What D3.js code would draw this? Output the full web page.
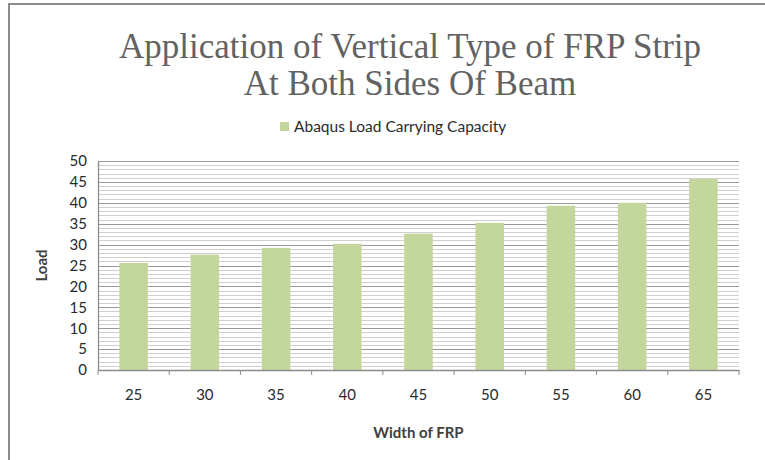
<!doctype html>
<html lang="en">
<head>
<meta charset="utf-8">
<title>Application of Vertical Type of FRP Strip</title>
<script src="https://d3js.org/d3.v7.min.js"></script>
<style>
  body { margin: 0; background: #fff; }
</style>
</head>
<body>
<svg width="765" height="460"></svg>
<script>
// data
var widths = ["25", "30", "35", "40", "45", "50", "55", "60", "65"];
var loads = [25.6, 27.6, 29.2, 30.2, 32.6, 35.2, 39.3, 40.0, 45.7];
var yTicks = [0, 5, 10, 15, 20, 25, 30, 35, 40, 45, 50];
var seriesName = "Abaqus Load Carrying Capacity";
var titleLines = ["Application of Vertical Type of FRP Strip", "At Both Sides Of Beam"];

var svg = d3.select("svg");
var plotL = 98, plotR = 739, plotT = 161, plotB = 370;
var font = "Lato, 'Open Sans', sans-serif";

// outer chart frame
svg.append("rect").attr("x", 9).attr("y", 4).attr("width", 780).attr("height", 480)
  .attr("fill", "none").attr("stroke", "#8c8c8c").attr("stroke-width", 2);

var x = d3.scaleBand().domain(widths).range([plotL, plotR]).paddingInner(0.6).paddingOuter(0.3);
var y = d3.scaleLinear().domain([0, 50]).range([plotB, plotT]);

// minor gridlines every 1, major every 5
var g = svg.append("g");
g.selectAll(".minor").data(d3.range(1, 50).filter(function(d) { return d % 5 != 0; }))
  .enter().append("line")
  .attr("x1", plotL).attr("x2", plotR)
  .attr("y1", function(d) { return Math.round(y(d)) + 0.5; })
  .attr("y2", function(d) { return Math.round(y(d)) + 0.5; })
  .attr("stroke", "#cfcfcf");
g.selectAll(".major").data(yTicks.slice(1))
  .enter().append("line")
  .attr("x1", plotL).attr("x2", plotR)
  .attr("y1", function(d) { return Math.round(y(d)) + 0.5; })
  .attr("y2", function(d) { return Math.round(y(d)) + 0.5; })
  .attr("stroke", "#9a9a9a");

// bars
svg.selectAll(".bar").data(loads).enter().append("rect")
  .attr("x", function(d, i) { return x(widths[i]); })
  .attr("y", function(d) { return y(d); })
  .attr("width", x.bandwidth())
  .attr("height", function(d) { return plotB - y(d); })
  .attr("fill", "#c3d69b");

// axes
var yAxis = svg.append("g").attr("transform", "translate(" + plotL + ",0)")
  .call(d3.axisLeft(y).tickValues(yTicks).tickSize(0).tickPadding(11));
var xAxis = svg.append("g").attr("transform", "translate(0," + plotB + ")")
  .call(d3.axisBottom(x).tickSize(0).tickPadding(19));
[yAxis, xAxis].forEach(function(a) {
  a.select(".domain").attr("stroke", "#8c8c8c").attr("stroke-width", 1.3);
  a.selectAll("text").attr("font-family", font).attr("font-size", 15).attr("fill", "#2a2a2a");
});
// x tick marks between categories
svg.selectAll(".xt").data(d3.range(widths.length + 1)).enter().append("line")
  .attr("x1", function(i) { return plotL + i * (plotR - plotL) / widths.length; })
  .attr("x2", function(i) { return plotL + i * (plotR - plotL) / widths.length; })
  .attr("y1", plotB).attr("y2", plotB + 5)
  .attr("stroke", "#8c8c8c");

// titles
svg.selectAll(".title").data(titleLines).enter().append("text")
  .attr("x", 410).attr("y", function(d, i) { return 58 + i * 37; })
  .attr("text-anchor", "middle")
  .attr("font-family", "'Liberation Serif', serif")
  .attr("font-size", 35)
  .attr("fill", "#626262")
  .text(function(d) { return d; });

// legend
svg.append("rect").attr("x", 280).attr("y", 122).attr("width", 9).attr("height", 9).attr("fill", "#c3d69b");
svg.append("text").attr("x", 294).attr("y", 131.5)
  .attr("font-family", font).attr("font-size", 15.5).attr("fill", "#2a2a2a").text(seriesName);

// axis titles
svg.append("text").attr("transform", "translate(47," + (plotT + plotB) / 2 + ") rotate(-90)")
  .attr("text-anchor", "middle").attr("font-weight", "bold")
  .attr("font-family", font).attr("font-size", 15).attr("fill", "#404040").text("Load");
svg.append("text").attr("x", (plotL + plotR) / 2).attr("y", 438)
  .attr("text-anchor", "middle").attr("font-weight", "bold")
  .attr("font-family", font).attr("font-size", 15).attr("fill", "#404040").text("Width of FRP");
</script>
</body>
</html>
